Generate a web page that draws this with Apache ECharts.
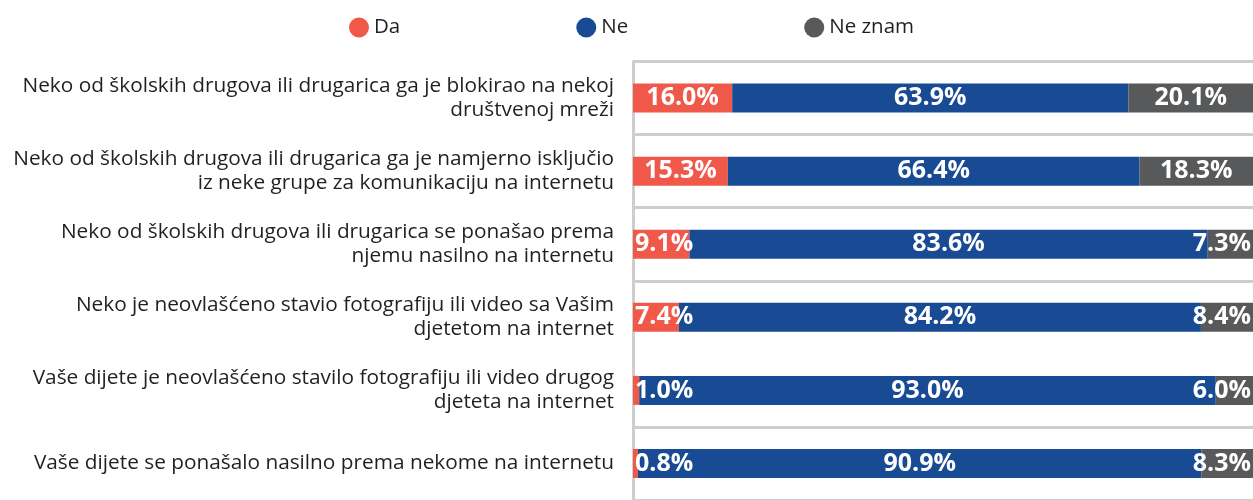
<!DOCTYPE html>
<html>
<head>
<meta charset="utf-8">
<script src="https://cdn.jsdelivr.net/npm/echarts@6/dist/echarts.min.js"></script>
<style>
  html, body { margin: 0; padding: 0; background: #fff; }
  #chart { width: 1253px; height: 500px; }
</style>
</head>
<body>
<div id="chart"></div>
<script>
// categories, top to bottom
var categories = [
  'Neko od školskih drugova ili drugarica ga je blokirao na nekoj\ndruštvenoj mreži',
  'Neko od školskih drugova ili drugarica ga je namjerno isključio\niz neke grupe za komunikaciju na internetu',
  'Neko od školskih drugova ili drugarica se ponašao prema\nnjemu nasilno na internetu',
  'Neko je neovlašćeno stavio fotografiju ili video sa Vašim\ndjetetom na internet',
  'Vaše dijete je neovlašćeno stavilo fotografiju ili video drugog\ndjeteta na internet',
  'Vaše dijete se ponašalo nasilno prema nekome na internetu'
];
var da = [16.0, 15.3, 9.1, 7.4, 1.0, 0.8];
var ne = [63.9, 66.4, 83.6, 84.2, 93.0, 90.9];
var neZnam = [20.1, 18.3, 7.3, 8.4, 6.0, 8.3];

var FONT = '"Open Sans", "Noto Sans", sans-serif';
var colors = { da: '#f0584a', ne: '#194a94', neZnam: '#58595b' };

// small segments get their label pushed to the bar edge
function items(values, smallPos) {
  return values.map(function (v) {
    if (smallPos && v < 10) {
      return { value: v, label: { position: smallPos, distance: 2 } };
    }
    return v;
  });
}

function barSeries(name, values, color, smallPos) {
  return {
    name: name,
    type: 'bar',
    stack: 'total',
    barWidth: 29,
    data: items(values, smallPos),
    itemStyle: { color: color },
    label: {
      show: true,
      position: 'inside',
      color: '#fff',
      fontFamily: FONT,
      fontWeight: 'bold',
      fontSize: 25,
      formatter: function (p) { return p.value.toFixed(1) + '%'; }
    },
    emphasis: { disabled: true }
  };
}

var myChart = echarts.init(document.getElementById('chart'));
myChart.setOption({
  animation: false,
  textStyle: { fontFamily: FONT },
  legend: {
    top: 12,
    left: 344,
    itemGap: 176,
    itemWidth: 20,
    itemHeight: 20,
    icon: 'circle',
    textStyle: { fontSize: 20.5, color: '#231f20', fontFamily: FONT },
    data: ['Da', 'Ne', 'Ne znam']
  },
  grid: { left: 633, right: 0, top: 61.5, height: 447, containLabel: false },
  xAxis: {
    type: 'value',
    min: 0,
    max: 100,
    show: false
  },
  yAxis: {
    type: 'category',
    inverse: true,
    data: categories,
    axisLine: { show: true, lineStyle: { color: '#d0cdcd', width: 3 } },
    axisTick: { show: false },
    axisLabel: {
      color: '#231f20',
      fontSize: 20.8,
      lineHeight: 24,
      margin: 19,
      fontFamily: FONT
    },
    splitLine: {
      show: true,
      // the reference has no line between the 4th and 5th rows
      interval: function (i) { return i !== 4; },
      lineStyle: { color: '#d0cdcd', width: 3 }
    }
  },
  series: [
    barSeries('Da', da, colors.da, 'insideLeft'),
    barSeries('Ne', ne, colors.ne, null),
    barSeries('Ne znam', neZnam, colors.neZnam, 'insideRight')
  ]
});
</script>
</body>
</html>
